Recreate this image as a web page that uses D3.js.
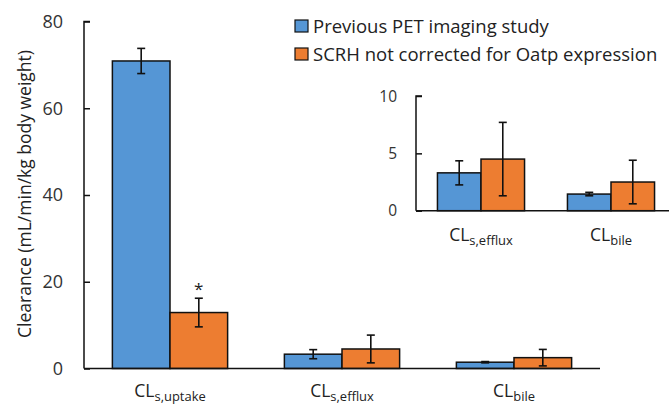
<!DOCTYPE html>
<html>
<head>
<meta charset="utf-8">
<script src="https://cdn.jsdelivr.net/npm/d3@7"></script>
<style>
  html, body { margin: 0; padding: 0; background: #fff; }
  svg { display: block; font-family: "Open Sans", sans-serif; }
</style>
</head>
<body>
<svg id="chart" width="669" height="404"></svg>
<script>
// Clearance categories (subscript part of the CL label)
const categories = ["s,uptake", "s,efflux", "bile"];
const insetCategories = ["s,efflux", "bile"];
const seriesNames = ["Previous PET imaging study", "SCRH not corrected for Oatp expression"];
const seriesColors = ["#5596D5", "#ED7D31"];

// Mean clearance (mL/min/kg body weight) and error (SD)
const petValues = [70.9, 3.3, 1.45];
const petErrors = [2.9, 1.05, 0.15];
const scrhValues = [12.9, 4.5, 2.5];
const scrhErrors = [3.3, 3.2, 1.9];

// Significance markers, per category, for the SCRH series
const scrhMarks = ["*", "", ""];

const mainTicks = [0, 20, 40, 60, 80];
const insetTicks = [0, 5, 10];

const svg = d3.select("#chart");

const rows = categories.map((c, i) => ({
  cat: c,
  vals: [
    { s: 0, v: petValues[i], e: petErrors[i], mark: "" },
    { s: 1, v: scrhValues[i], e: scrhErrors[i], mark: scrhMarks[i] }
  ]
}));

function drawPanel(g, opts) {
  const { cats, data, x0Range, yRange, yDomain, ticks, tickFont, labelFont, labelY, tickLabelX } = opts;
  const x0 = d3.scaleBand().domain(cats).range(x0Range).paddingInner(0.33).paddingOuter(0.165);
  const x1 = d3.scaleBand().domain([0, 1]).range([0, x0.bandwidth()]);
  const y = d3.scaleLinear().domain(yDomain).range(yRange);

  // bars
  const grp = g.selectAll("g.cat").data(data).join("g")
    .attr("class", "cat")
    .attr("transform", d => `translate(${x0(d.cat)},0)`);
  grp.selectAll("rect").data(d => d.vals).join("rect")
    .attr("x", d => x1(d.s))
    .attr("width", x1.bandwidth())
    .attr("y", d => y(d.v))
    .attr("height", d => y(0) - y(d.v))
    .attr("fill", d => seriesColors[d.s])
    .attr("stroke", "#111")
    .attr("stroke-width", 1.5);

  // error bars
  const eb = grp.selectAll("g.err").data(d => d.vals).join("g").attr("class", "err")
    .attr("stroke", "#111").attr("stroke-width", 1.6);
  eb.append("line")
    .attr("x1", d => x1(d.s) + x1.bandwidth() / 2)
    .attr("x2", d => x1(d.s) + x1.bandwidth() / 2)
    .attr("y1", d => y(d.v + d.e))
    .attr("y2", d => y(d.v - d.e));
  [1, -1].forEach(sign => {
    eb.append("line")
      .attr("x1", d => x1(d.s) + x1.bandwidth() / 2 - 4)
      .attr("x2", d => x1(d.s) + x1.bandwidth() / 2 + 4)
      .attr("y1", d => y(d.v + sign * d.e))
      .attr("y2", d => y(d.v + sign * d.e));
  });
  grp.selectAll("text.mark").data(d => d.vals.filter(v => v.mark)).join("text")
    .attr("class", "mark")
    .attr("x", d => x1(d.s) + x1.bandwidth() / 2)
    .attr("y", d => y(d.v + d.e) - 3)
    .attr("text-anchor", "middle")
    .attr("font-size", 17)
    .attr("fill", "#222")
    .text(d => d.mark);

  // y axis (inward ticks)
  const yAxis = d3.axisRight(y).tickValues(ticks).tickSize(6).tickFormat("");
  const ya = g.append("g").attr("transform", `translate(${x0Range[0]},0)`).call(yAxis);
  ya.select(".domain").attr("d", `M6,${y(yDomain[1])}H0V${y(0)}`).attr("stroke", "#111").attr("stroke-width", 1.5);
  ya.selectAll(".tick line").attr("stroke", "#111").attr("stroke-width", 1.5);
  g.selectAll("text.ytl").data(ticks).join("text")
    .attr("class", "ytl")
    .attr("x", tickLabelX)
    .attr("y", d => y(d))
    .attr("dy", "0.36em")
    .attr("text-anchor", "end")
    .attr("font-size", tickFont)
    .attr("fill", "#333")
    .text(d => d);

  // x axis line
  g.append("line")
    .attr("x1", x0Range[0]).attr("x2", x0Range[1])
    .attr("y1", y(0)).attr("y2", y(0))
    .attr("stroke", "#111").attr("stroke-width", 1.5);

  // category labels: CL with subscript
  const lab = g.selectAll("text.xl").data(cats).join("text")
    .attr("class", "xl")
    .attr("x", d => x0(d) + x0.bandwidth() / 2)
    .attr("y", labelY)
    .attr("text-anchor", "middle")
    .attr("font-size", labelFont)
    .attr("fill", "#222");
  lab.append("tspan").text("CL");
  lab.append("tspan").attr("font-size", labelFont * 0.74).attr("dy", "0.3em").text(d => d);

  return { x0, y };
}

// main chart
drawPanel(svg.append("g"), {
  cats: categories,
  data: rows,
  x0Range: [84, 600],
  yRange: [368.5, 21.5],
  yDomain: [0, 80],
  ticks: mainTicks,
  tickFont: 18,
  labelFont: 17.5,
  labelY: 397,
  tickLabelX: 63
});

// inset: zoomed view of the two small clearances
drawPanel(svg.append("g"), {
  cats: insetCategories,
  data: rows.filter(r => insetCategories.includes(r.cat)),
  x0Range: [416, 676],
  yRange: [210.7, 96],
  yDomain: [0, 10],
  ticks: insetTicks,
  tickFont: 15.5,
  labelFont: 17.5,
  labelY: 241,
  tickLabelX: 397
});

// y-axis title
svg.append("text")
  .attr("transform", "translate(31,194) rotate(-90)")
  .attr("text-anchor", "middle")
  .attr("font-size", 17.5)
  .attr("fill", "#222")
  .text("Clearance (mL/min/kg body weight)");

// legend
const leg = svg.append("g").selectAll("g").data(seriesNames).join("g")
  .attr("transform", (d, i) => `translate(295,${20 + i * 28})`);
leg.append("rect")
  .attr("width", 13).attr("height", 12)
  .attr("fill", (d, i) => seriesColors[i])
  .attr("stroke", "#111").attr("stroke-width", 1.2);
leg.append("text")
  .attr("x", 18).attr("y", 6).attr("dy", "0.36em")
  .attr("font-size", 18.5)
  .attr("fill", "#222")
  .text(d => d);
</script>
</body>
</html>
